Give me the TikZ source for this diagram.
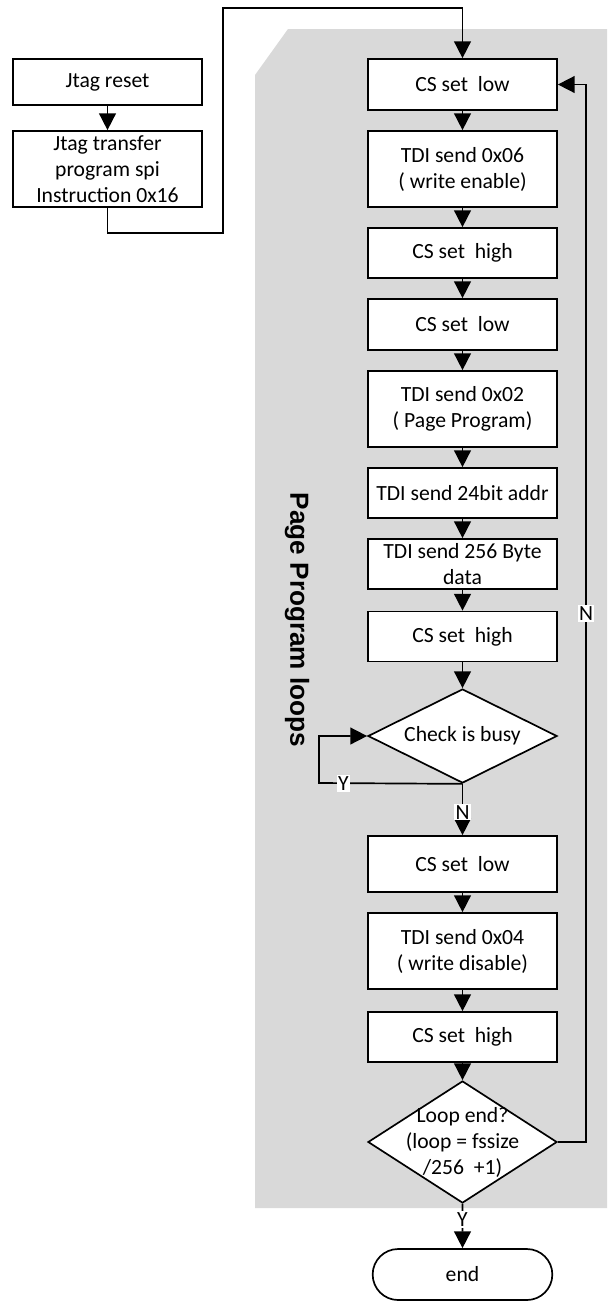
\documentclass[tikz,border=0pt]{standalone}
\usepackage{fontspec}
\setmainfont{Carlito}
\newfontfamily\titlefont{Liberation Sans}
\usetikzlibrary{shapes.geometric, shapes.misc, arrows.meta, positioning}
\definecolor{loopGray}{HTML}{D9D9D9}

\begin{document}
\begin{tikzpicture}[
    x=0.025cm, y=-0.025cm,
    stepbox/.style={rectangle, draw=black, fill=white, line width=1.2pt, inner sep=0pt,
                  minimum width=4.725cm, minimum height=1.275cm, align=center,
                  font=\fontsize{15.4}{18.5}\selectfont},
    tallbox/.style={stepbox, minimum height=1.9cm},
    decision/.style={diamond, shape aspect=2, draw=black, fill=white, line width=1.2pt, inner sep=0pt,
                  minimum width=4.725cm, font=\fontsize{15.4}{18.5}\selectfont},
    terminal/.style={rounded rectangle, draw=black, fill=white, line width=1.2pt,
                  minimum width=4.725cm, minimum height=1.275cm, font=\fontsize{15.4}{18.5}\selectfont},
    arrow/.style={-{Triangle[length=12pt, width=12pt]}, line width=1.2pt},
    answer/.style={fill=white, inner sep=1pt, font=\fontsize{15.4}{18.5}\selectfont}
  ]
    \useasboundingbox (0,0) rectangle (607,1303);
    % loop background
    \fill[loopGray] (255,75) -- (288,29) -- (607,29) -- (607,1208) -- (255,1208) -- cycle;
    \node[rotate=-90, font=\titlefont\bfseries\fontsize{18.6}{22}\selectfont] (looptitle) at (297,620) {Page Program loops};

    \node[stepbox, minimum height=1.15cm] (jreset) at (107.5,82) {Jtag reset};
    \node[tallbox] (jxfer) at (107.5,169) {Jtag transfer\\program spi\\Instruction 0x16};

    \node[stepbox] (csA) at (462.5,84.5) {CS set\ \ low};
    \node[tallbox] (wen) at (462.5,169) {TDI send 0x06\\( write enable)};
    \node[stepbox, minimum height=1.25cm] (csB) at (462.5,253) {CS set\ \ high};
    \node[stepbox] (csC) at (462.5,324.5) {CS set\ \ low};
    \node[tallbox] (ppcmd) at (462.5,409) {TDI send 0x02\\( Page Program)};
    \node[stepbox, minimum height=1.25cm] (addr) at (462.5,493) {TDI send 24bit addr};
    \node[stepbox, minimum height=1.25cm] (data) at (462.5,564) {TDI send 256 Byte\\data};
    \node[stepbox, minimum height=1.25cm] (csD) at (462.5,636.5) {CS set\ \ high};
    \node[decision, minimum height=2.35cm] (busy) at (462.5,736) {Check is busy};
    \node[stepbox, minimum height=1.4cm] (csE) at (462.5,864) {CS set\ \ low};
    \node[tallbox] (wdis) at (462.5,951) {TDI send 0x04\\( write disable)};
    \node[stepbox, minimum height=1.25cm] (csF) at (462.5,1037) {CS set\ \ high};
    \node[decision, minimum height=3.05cm] (loopend) at (462.5,1142) {};
    \node[align=center, font=\fontsize{15.4}{18.5}\selectfont] (loopendtxt) at (loopend) {Loop end?\\(loop = fssize\\/256\ \ +1)};
    \node[terminal] (finish) at (462.5,1274.5) {end};

    \draw[arrow] (jreset) -- (jxfer);
    \coordinate (bendA) at (223,233);
    \coordinate (bendB) at (223,8);
    \draw[arrow] (jxfer.south) |- (bendA) -- (bendB) -| (csA.north);

    \foreach \a/\b in {csA/wen, wen/csB, csB/csC, csC/ppcmd, ppcmd/addr, addr/data,
                       data/csD, csD/busy, csE/wdis, wdis/csF, csF/loopend}
      \draw[arrow] (\a) -- (\b);

    \draw[arrow] (busy.south) -- node[answer, pos=0.55] {N} (csE);
    \coordinate (busyY) at (319,783);
    \draw[arrow] (busy.south) -- node[answer, pos=0.83] {Y} (busyY) |- (busy.west);
    \coordinate (loopR) at (586,1142);
    \draw[arrow] (loopend.east) -- (loopR) |- node[answer, pos=0.25] {N} (csA.east);
    \draw[arrow] (loopend.south) -- node[answer, pos=0.35] {Y} (finish);
  \end{tikzpicture}
\end{document}
